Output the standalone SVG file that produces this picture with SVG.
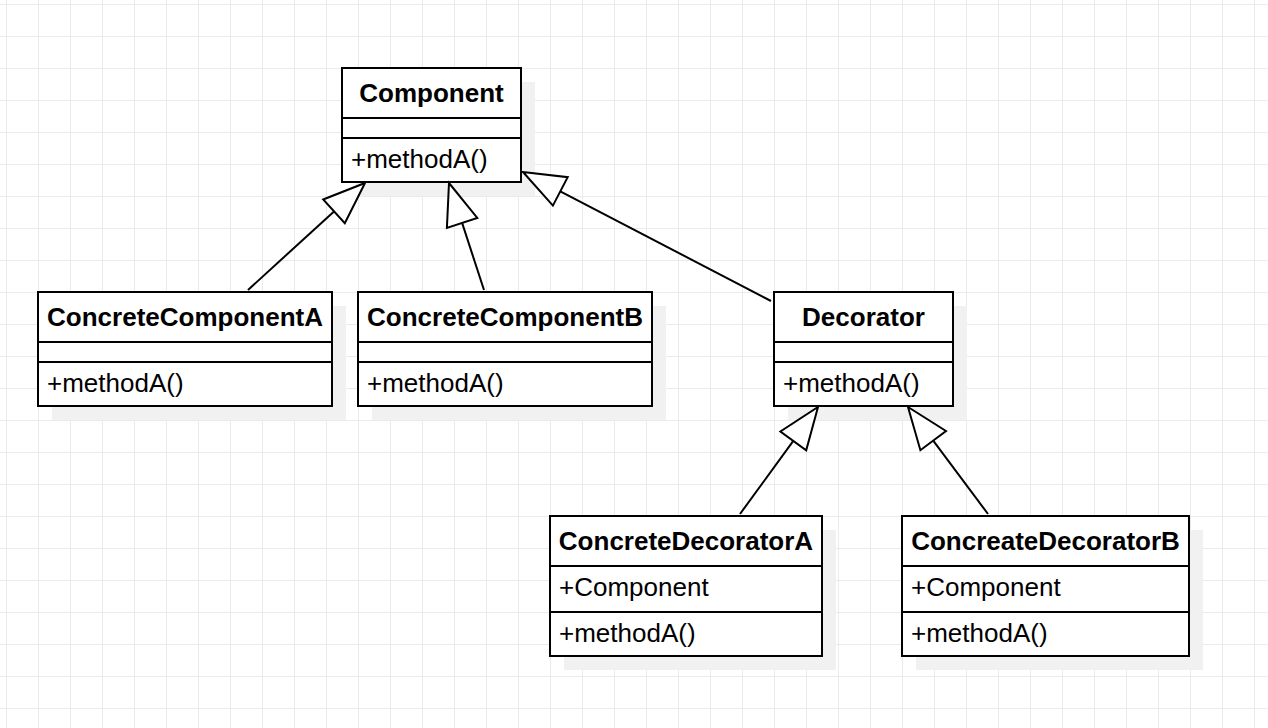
<svg xmlns="http://www.w3.org/2000/svg" width="1268" height="728" viewBox="0 0 1268 728">
  <style>
    .box { fill: #ffffff; stroke: #000000; stroke-width: 2; }
    .sep { stroke: #000000; stroke-width: 2; }
    .shadow { fill: #f1f1f1; }
    .title { font-family: "Liberation Sans", Arial, sans-serif; font-size: 26px; font-weight: bold; text-anchor: middle; fill: #000000; }
    .member { font-family: "Liberation Sans", Arial, sans-serif; font-size: 26px; fill: #000000; }
    .edge { fill: none; stroke: #000000; stroke-width: 2; }
    .head { fill: #ffffff; stroke: #000000; stroke-width: 2; stroke-linejoin: miter; }
  </style>
  <defs>
    <pattern id="grid" x="6" y="4" width="32" height="32" patternUnits="userSpaceOnUse">
      <path d="M0.5 0 V32 M0 0.5 H32" fill="none" stroke="#ebebeb" stroke-width="1"/>
    </pattern>
  </defs>

  <rect width="1268" height="728" fill="#ffffff"/>
  <rect width="1268" height="728" fill="url(#grid)"/>

  <!-- Component -->
  <g id="component">
    <rect class="shadow" x="356" y="82" width="179" height="114"/>
    <rect class="box" x="342" y="68" width="179" height="114"/>
    <line class="sep" x1="342" y1="118" x2="521" y2="118"/>
    <line class="sep" x1="342" y1="138" x2="521" y2="138"/>
    <text class="title" x="431.5" y="102">Component</text>
    <text class="member" x="351" y="168">+methodA()</text>
  </g>

  <!-- ConcreteComponentA -->
  <g id="concrete-component-a">
    <rect class="shadow" x="52" y="306" width="294" height="114"/>
    <rect class="box" x="38" y="292" width="294" height="114"/>
    <line class="sep" x1="38" y1="342" x2="332" y2="342"/>
    <line class="sep" x1="38" y1="362" x2="332" y2="362"/>
    <text class="title" x="185" y="326">ConcreteComponentA</text>
    <text class="member" x="47" y="392">+methodA()</text>
  </g>

  <!-- ConcreteComponentB -->
  <g id="concrete-component-b">
    <rect class="shadow" x="372" y="306" width="294" height="114"/>
    <rect class="box" x="358" y="292" width="294" height="114"/>
    <line class="sep" x1="358" y1="342" x2="652" y2="342"/>
    <line class="sep" x1="358" y1="362" x2="652" y2="362"/>
    <text class="title" x="505" y="326">ConcreteComponentB</text>
    <text class="member" x="367" y="392">+methodA()</text>
  </g>

  <!-- Decorator -->
  <g id="decorator">
    <rect class="shadow" x="788" y="306" width="179" height="114"/>
    <rect class="box" x="774" y="292" width="179" height="114"/>
    <line class="sep" x1="774" y1="342" x2="953" y2="342"/>
    <line class="sep" x1="774" y1="362" x2="953" y2="362"/>
    <text class="title" x="863.5" y="326">Decorator</text>
    <text class="member" x="783" y="392">+methodA()</text>
  </g>

  <!-- ConcreteDecoratorA -->
  <g id="concrete-decorator-a">
    <rect class="shadow" x="564" y="530" width="272" height="140"/>
    <rect class="box" x="550" y="516" width="272" height="140"/>
    <line class="sep" x1="550" y1="566" x2="822" y2="566"/>
    <line class="sep" x1="550" y1="612" x2="822" y2="612"/>
    <text class="title" x="686" y="550">ConcreteDecoratorA</text>
    <text class="member" x="559" y="596">+Component</text>
    <text class="member" x="559" y="642">+methodA()</text>
  </g>

  <!-- ConcreateDecoratorB -->
  <g id="concreate-decorator-b">
    <rect class="shadow" x="916" y="530" width="287" height="140"/>
    <rect class="box" x="902" y="516" width="287" height="140"/>
    <line class="sep" x1="902" y1="566" x2="1189" y2="566"/>
    <line class="sep" x1="902" y1="612" x2="1189" y2="612"/>
    <text class="title" x="1045.5" y="550">ConcreateDecoratorB</text>
    <text class="member" x="911" y="596">+Component</text>
    <text class="member" x="911" y="642">+methodA()</text>
  </g>

  <!-- generalization connectors: line plus hollow triangle at the parent -->
  <g id="connectors">
    <line class="edge" x1="248" y1="290" x2="334" y2="211.4"/>
    <polygon class="head" points="365,183 344.8,223.2 323.2,199.5"/>

    <line class="edge" x1="484" y1="290" x2="462.1" y2="222.9"/>
    <polygon class="head" points="449,183 477.3,217.9 446.9,227.9"/>

    <line class="edge" x1="771" y1="301" x2="560.3" y2="191.4"/>
    <polygon class="head" points="523,172 552.9,205.6 567.7,177.2"/>

    <line class="edge" x1="740" y1="514" x2="793.3" y2="440.9"/>
    <polygon class="head" points="818,407 806.2,450.3 780.4,431.5"/>

    <line class="edge" x1="988" y1="514" x2="933.2" y2="440.6"/>
    <polygon class="head" points="908,407 946,431 920.4,450.2"/>
  </g>
</svg>
